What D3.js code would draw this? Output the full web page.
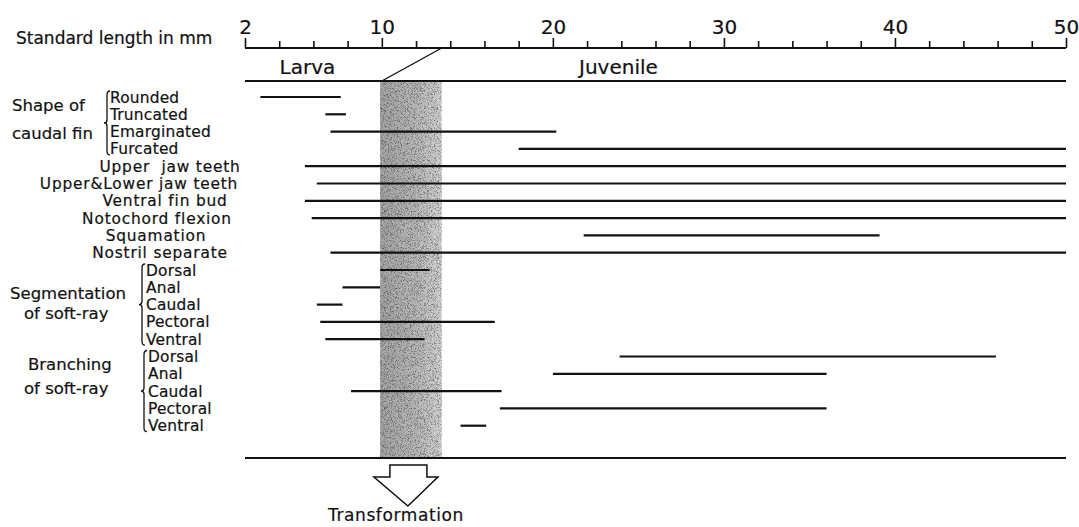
<!DOCTYPE html>
<html>
<head>
<meta charset="utf-8">
<script src="https://cdn.jsdelivr.net/npm/d3@7"></script>
<style>
  html, body { margin: 0; padding: 0; background: #fff; }
  svg { display: block; }
  text { font-family: "DejaVu Sans", sans-serif; fill: #111; stroke: #111; stroke-width: 0.2px; }
</style>
</head>
<body>
<svg id="chart" width="1079" height="527"></svg>
<script>
// Developmental stages, standard length (mm)
const tickValues = d3.range(2, 51, 2);
const tickLabels = [2, 10, 20, 30, 40, 50];
const larvaEnd = 10;          // stage boundary at the bottom of the split line
const juvenileStart = 13.5;   // boundary at the axis
const transformation = [9.9, 13.5];

const rowLabels = [
  'Rounded', 'Truncated', 'Emarginated', 'Furcated',
  'Upper  jaw teeth', 'Upper&Lower jaw teeth', 'Ventral fin bud', 'Notochord flexion',
  'Squamation', 'Nostril separate',
  'Dorsal', 'Anal', 'Caudal', 'Pectoral', 'Ventral',
  'Dorsal', 'Anal', 'Caudal', 'Pectoral', 'Ventral'
];
const rowStart = [2.9, 6.7, 7.0, 18.0, 5.5, 6.2, 5.5, 5.9, 21.8, 7.0,
                  9.9, 7.7, 6.2, 6.4, 6.7, 23.9, 20.0, 8.2, 16.9, 14.6];
const rowEnd   = [7.6, 7.9, 20.2, 50, 50, 50, 50, 50, 39.1, 50,
                  12.8, 9.9, 7.7, 16.6, 12.5, 45.9, 36.0, 17.0, 36.0, 16.1];

const groupNames = [['Shape of', 'caudal fin'], ['Segmentation', 'of soft-ray'], ['Branching', 'of soft-ray']];
const groupRows = [[0, 3], [10, 14], [15, 19]];

// layout only
const groupItemX = [110, 146, 148];
const braceX = [107, 142, 144];
const groupTextX = [[12, 12], [10, 24], [28, 24]];
const groupTextY = [[105, 133], [293, 313], [364, 388]];
const singleCx = { 4: 170, 5: 139, 6: 165, 7: 157, 8: 156, 9: 160 };

const svg = d3.select('#chart');
const x = d3.scaleLinear().domain([2, 50]).range([245, 1066]);
const y = d3.scaleLinear().domain([0, 19]).range([97, 425.7]);

const axisY = 48, stageY = 81, bottomY = 458;

// stippled band
const defs = svg.append('defs');
const f = defs.append('filter').attr('id', 'grain').attr('x', 0).attr('y', 0).attr('width', 1).attr('height', 1);
f.append('feTurbulence').attr('type', 'fractalNoise').attr('baseFrequency', 1.3).attr('numOctaves', 2).attr('seed', 4).attr('result', 'n');
f.append('feColorMatrix').attr('in', 'n').attr('type', 'matrix')
  .attr('values', '0 0 0 0 0  0 0 0 0 0  0 0 0 0 0  -3 0 0 0 1.6').attr('result', 'a');
f.append('feComposite').attr('in', 'a').attr('in2', 'SourceGraphic').attr('operator', 'in');
const g = defs.append('linearGradient').attr('id', 'bandFill');
g.append('stop').attr('offset', '0%').attr('stop-color', '#a4a4a4');
g.append('stop').attr('offset', '60%').attr('stop-color', '#b8b8b8');
g.append('stop').attr('offset', '100%').attr('stop-color', '#d2d2d2');

const bx = x(transformation[0]), bw = x(transformation[1]) - x(transformation[0]);
svg.append('rect').attr('x', bx).attr('y', stageY).attr('width', bw).attr('height', bottomY - stageY)
  .attr('fill', 'url(#bandFill)');
svg.append('rect').attr('x', bx).attr('y', stageY).attr('width', bw).attr('height', bottomY - stageY)
  .attr('fill', '#000').attr('filter', 'url(#grain)').attr('opacity', 0.45);

// axis
const axis = d3.axisTop(x).tickValues(tickValues).tickSize(8)
  .tickFormat(d => tickLabels.includes(d) ? d : '');
const ax = svg.append('g').attr('transform', `translate(0,${axisY})`).call(axis);
ax.select('.domain').attr('d', `M${x(2)},0H${x(50)}`).attr('stroke', '#111').attr('stroke-width', 2);
ax.selectAll('.tick line').attr('stroke', '#111').attr('stroke-width', 1.6)
  .attr('y2', d => tickLabels.includes(d) ? -10 : -7);
ax.selectAll('.tick text').attr('y', -14).attr('dy', 0)
  .style('font-family', '"DejaVu Sans", sans-serif').style('font-size', '20px').attr('fill', '#111');

svg.append('text').attr('x', 16).attr('y', 44).style('font-size', '17px').text('Standard length in mm');

// stage line
svg.append('line').attr('x1', x(2)).attr('x2', x(50)).attr('y1', stageY).attr('y2', stageY)
  .attr('stroke', '#111').attr('stroke-width', 2);
svg.append('line').attr('x1', x(larvaEnd)).attr('y1', stageY).attr('x2', x(juvenileStart)).attr('y2', axisY)
  .attr('stroke', '#111').attr('stroke-width', 1.4);
svg.append('text').attr('x', (x(2) + x(larvaEnd)) / 2 - 6).attr('y', 74).attr('text-anchor', 'middle')
  .style('font-size', '20px').text('Larva');
svg.append('text').attr('x', 579).attr('y', 74).style('font-size', '20px').text('Juvenile');

// event rows
svg.append('g').selectAll('line').data(rowLabels).join('line')
  .attr('x1', (d, i) => x(rowStart[i])).attr('x2', (d, i) => x(rowEnd[i]))
  .attr('y1', (d, i) => y(i)).attr('y2', (d, i) => y(i))
  .attr('stroke', '#111').attr('stroke-width', 2.2);

// row labels
const groupOf = i => groupRows.findIndex(r => i >= r[0] && i <= r[1]);
svg.append('g').selectAll('text').data(rowLabels).join('text')
  .attr('x', (d, i) => { const gi = groupOf(i); return gi >= 0 ? groupItemX[gi] : singleCx[i]; })
  .attr('y', (d, i) => y(i)).attr('dy', '0.36em')
  .attr('text-anchor', (d, i) => groupOf(i) >= 0 ? 'start' : 'middle')
  .style('font-size', '15.4px')
  .style('letter-spacing', (d, i) => groupOf(i) >= 0 ? '0.2px' : '0.8px')
  .style('white-space', 'pre')
  .text(d => d);

// group labels + braces
groupNames.forEach((names, gi) => {
  names.forEach((n, k) => {
    svg.append('text').attr('x', groupTextX[gi][k]).attr('y', groupTextY[gi][k]).attr('dy', '0.36em')
      .style('font-size', '16.5px').text(n);
  });
  const bxx = braceX[gi];
  const y0 = y(groupRows[gi][0]) - 6, y1 = y(groupRows[gi][1]) + 6;
  const ym = (y0 + y1) / 2;
  svg.append('path')
    .attr('d', `M${bxx + 3},${y0} Q${bxx},${y0} ${bxx},${y0 + 4} L${bxx},${ym - 3} Q${bxx},${ym} ${bxx - 3},${ym}` +
               ` Q${bxx},${ym} ${bxx},${ym + 3} L${bxx},${y1 - 4} Q${bxx},${y1} ${bxx + 3},${y1}`)
    .attr('fill', 'none').attr('stroke', '#111').attr('stroke-width', 1.3);
});

// bottom line
svg.append('line').attr('x1', x(2)).attr('x2', x(50)).attr('y1', bottomY).attr('y2', bottomY)
  .attr('stroke', '#111').attr('stroke-width', 2);

// transformation arrow
const cx = (x(transformation[0]) + x(transformation[1])) / 2 - 3;
const arrow = [[cx - 18, 465], [cx + 19, 465], [cx + 19, 477], [cx + 30, 477], [cx, 506],
               [cx - 34, 477], [cx - 18, 477]];
svg.append('path').attr('d', d3.line()(arrow) + 'Z')
  .attr('fill', '#fff').attr('stroke', '#111').attr('stroke-width', 1.5);
svg.append('text').attr('x', cx - 12).attr('y', 521).attr('text-anchor', 'middle')
  .style('font-size', '17px').style('letter-spacing', '0.6px').text('Transformation');
</script>
</body>
</html>
